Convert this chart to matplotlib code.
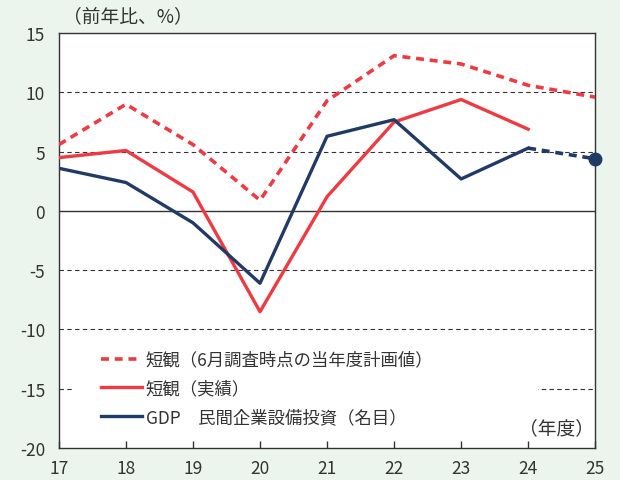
import numpy as np
import matplotlib
matplotlib.use("Agg")
import matplotlib.pyplot as plt
from matplotlib.patches import Rectangle

plt.rcParams['font.family'] = ['Noto Sans CJK JP', 'DejaVu Sans']
plt.rcParams['axes.unicode_minus'] = False

# ── data ──
years = [17, 18, 19, 20, 21, 22, 23, 24, 25]
tankan_plan = [5.6, 9.0, 5.6, 0.9, 9.3, 13.1, 12.4, 10.6, 9.6]
tankan_actual = [4.5, 5.1, 1.6, -8.5, 1.2, 7.5, 9.4, 6.9]
gdp_years = [17, 18, 19, 20, 21, 22, 23, 24]
gdp_capex = [3.6, 2.4, -1.0, -6.1, 6.3, 7.7, 2.7, 5.3]
gdp_est_years = [24, 25]
gdp_est = [5.3, 4.4]

RED = "#EE3A43"
NAVY = "#223A66"
BG = "#EBF5EE"
TXT = "#333333"

fig = plt.figure(figsize=(6.2, 4.81), dpi=100, facecolor=BG)
ax = fig.add_axes([0.095, 0.0665, 0.865, 0.8625])
ax.set_facecolor("white")

for yv in [10, 5, -5, -10, -15]:
    ax.axhline(yv, color=TXT, linestyle=(0, (4, 3)), linewidth=0.8, zorder=1)
ax.axhline(0, color=TXT, linewidth=1.0, zorder=1)

# white area behind the legend (hides the -15 grid line)
ax.add_patch(Rectangle((0.026, 0.04), 0.868, 0.21, transform=ax.transAxes,
                       facecolor="white", edgecolor="none", zorder=2))

ax.plot(years, tankan_plan, color=RED, linewidth=2.6, linestyle=(0, (2.2, 1.6)),
        label="短観（6月調査時点の当年度計画値）", zorder=3)
ax.plot(years[:len(tankan_actual)], tankan_actual, color=RED, linewidth=2.4,
        label="短観（実績）", zorder=3)
ax.plot(gdp_years, gdp_capex, color=NAVY, linewidth=2.4,
        label="GDP　民間企業設備投資（名目）", zorder=4)
ax.plot(gdp_est_years, gdp_est, color=NAVY, linewidth=2.6, linestyle=(0, (2.2, 1.6)), zorder=4)
ax.plot(gdp_est_years[-1:], gdp_est[-1:], "o", color=NAVY, markersize=9, zorder=5, clip_on=False)

ax.set_xlim(17, 25)
ax.set_ylim(-20, 15)
ax.set_xticks(years)
ax.set_yticks(np.arange(-20, 16, 5))
ax.tick_params(axis="x", direction="in", length=5, width=1, color=TXT,
               labelsize=12.5, labelcolor=TXT, pad=8)
ax.tick_params(axis="y", length=0, labelsize=12.5, labelcolor=TXT, pad=10)
for s in ax.spines.values():
    s.set_color(TXT)
    s.set_linewidth(1.0)

ax.text(0.008, 1.042, "（前年比、%）", transform=ax.transAxes, fontsize=13.5,
        color=TXT, ha="left", va="center")
ax.text(0.997, 0.05, "（年度）", transform=ax.transAxes, fontsize=13.5,
        color=TXT, ha="right", va="center")

leg = ax.legend(loc="lower left", bbox_to_anchor=(0.055, 0.023), frameon=False,
                fontsize=12.5, handlelength=2.4, handletextpad=0.2,
                labelspacing=0.62, borderpad=0.2)
leg.set_zorder(6)
for t in leg.get_texts():
    t.set_color(TXT)

fig.savefig("out.png", dpi=100, facecolor=BG)
